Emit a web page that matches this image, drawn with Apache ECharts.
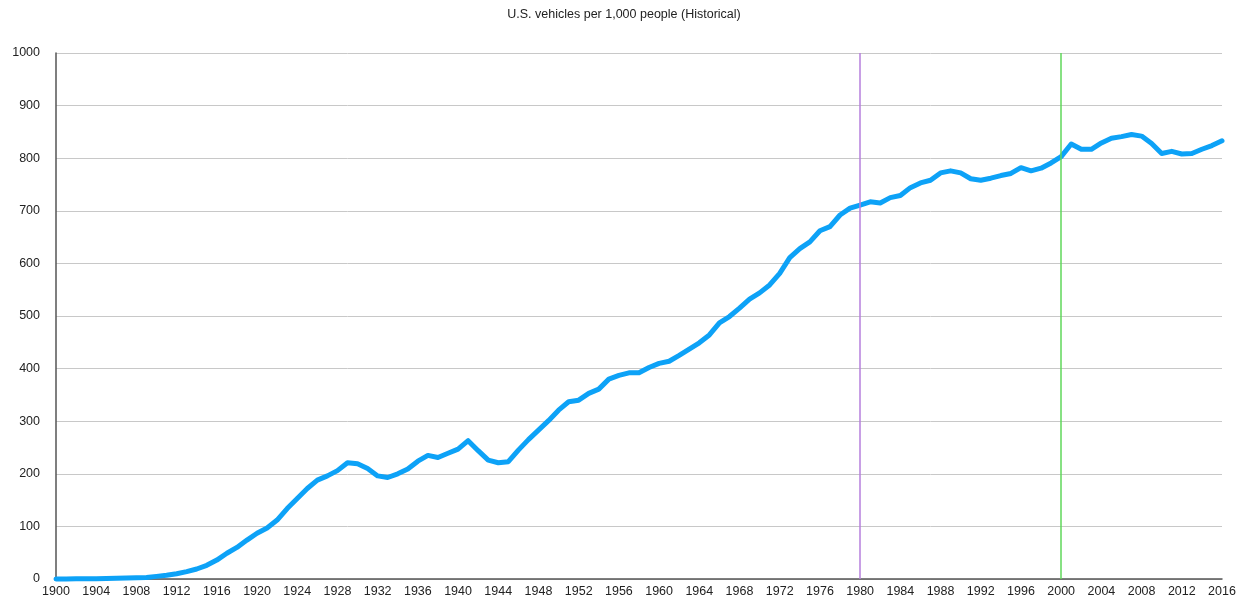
<!DOCTYPE html>
<html>
<head>
<meta charset="utf-8">
<title>U.S. vehicles per 1,000 people</title>
<script src="https://cdn.jsdelivr.net/npm/echarts@6/dist/echarts.min.js"></script>
<style>
  html, body { margin: 0; padding: 0; background: #fff; }
  #chartDiv { width: 1248px; height: 602px; }
</style>
</head>
<body>
<div id="chartDiv"></div>
<script>
// years 1900 - 2016
var years = [
    1900, 1901, 1902, 1903, 1904, 1905, 1906, 1907, 1908, 1909,
    1910, 1911, 1912, 1913, 1914, 1915, 1916, 1917, 1918, 1919,
    1920, 1921, 1922, 1923, 1924, 1925, 1926, 1927, 1928, 1929,
    1930, 1931, 1932, 1933, 1934, 1935, 1936, 1937, 1938, 1939,
    1940, 1941, 1942, 1943, 1944, 1945, 1946, 1947, 1948, 1949,
    1950, 1951, 1952, 1953, 1954, 1955, 1956, 1957, 1958, 1959,
    1960, 1961, 1962, 1963, 1964, 1965, 1966, 1967, 1968, 1969,
    1970, 1971, 1972, 1973, 1974, 1975, 1976, 1977, 1978, 1979,
    1980, 1981, 1982, 1983, 1984, 1985, 1986, 1987, 1988, 1989,
    1990, 1991, 1992, 1993, 1994, 1995, 1996, 1997, 1998, 1999,
    2000, 2001, 2002, 2003, 2004, 2005, 2006, 2007, 2008, 2009,
    2010, 2011, 2012, 2013, 2014, 2015, 2016
];

// vehicles per 1,000 people
var vehicles = [
    0, 0.2, 0.3, 0.4, 0.7, 1, 1.3, 1.7, 2.2, 3,
    5, 7, 10, 14, 19, 26, 36, 49, 60, 74,
    87, 97, 112, 134, 153, 172, 188, 196, 206, 221,
    219, 210, 196, 193, 200, 209, 224, 235, 231, 239,
    247, 263, 244, 226, 221, 223, 245, 265, 283, 301,
    321, 337, 340, 353, 361, 380, 387, 392, 392, 402,
    410, 414, 425, 437, 449, 464, 487, 499, 515, 532,
    544, 559, 581, 611, 628, 641, 662, 670, 692, 705,
    711, 717, 715, 725, 729, 744, 753, 758, 772, 776,
    772, 761, 758, 762, 767, 771, 782, 776, 781, 791,
    803, 827, 817, 817, 829, 838, 841, 845, 842, 828,
    809, 813, 808, 809, 817, 824, 833
];

// marker years
var markYears = [1980, 2000];
var markColors = ['#b67fdc', '#5fd75a'];

var myChart = echarts.init(document.getElementById('chartDiv'));

var seriesData = [];
for (var i = 0; i < years.length; i++) {
    seriesData.push([years[i], vehicles[i]]);
}

var markData = [];
for (var j = 0; j < markYears.length; j++) {
    markData.push({
        xAxis: markYears[j],
        lineStyle: { color: markColors[j], width: 1.5, type: 'solid' }
    });
}

var option = {
    backgroundColor: '#fff',
    animation: false,
    title: {
        text: 'U.S. vehicles per 1,000 people (Historical)',
        left: 'center',
        top: 3,
        textStyle: {
            fontFamily: 'Liberation Sans',
            fontSize: 12.5,
            fontWeight: 'normal',
            color: '#222'
        }
    },
    grid: {
        left: 56,
        right: 26,
        top: 53,
        bottom: 23
    },
    xAxis: {
        type: 'value',
        min: 1900,
        max: 2016,
        interval: 4,
        axisLine: { show: true, lineStyle: { color: '#555', width: 1.5 } },
        axisTick: { show: false },
        splitLine: { show: false },
        axisLabel: {
            margin: 6,
            fontFamily: 'Liberation Sans',
            fontSize: 12.5,
            color: '#222',
            showMinLabel: true,
            showMaxLabel: true,
            formatter: function (v) { return String(v); }
        }
    },
    yAxis: {
        type: 'value',
        min: 0,
        max: 1000,
        interval: 100,
        axisLine: { show: true, lineStyle: { color: '#555', width: 1.5 } },
        axisTick: { show: false },
        splitLine: { show: true, lineStyle: { color: '#c8c8c8', width: 1 } },
        axisLabel: {
            margin: 16,
            fontFamily: 'Liberation Sans',
            fontSize: 12.5,
            color: '#222',
            formatter: function (v) { return String(v); }
        }
    },
    series: [{
        name: 'vehicles',
        type: 'line',
        data: seriesData,
        showSymbol: false,
        smooth: false,
        clip: false,
        lineStyle: { color: '#0da2f7', width: 5, join: 'round', cap: 'round' },
        markLine: {
            silent: true,
            symbol: ['none', 'none'],
            label: { show: false },
            data: markData
        },
        z: 3
    }]
};

myChart.setOption(option);
</script>
</body>
</html>
